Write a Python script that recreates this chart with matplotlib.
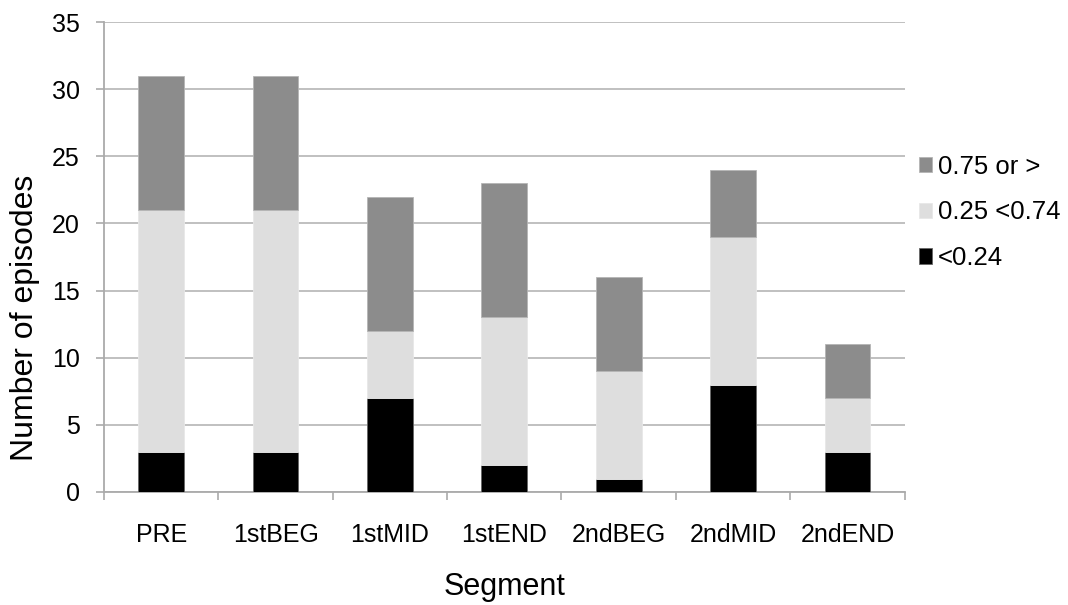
import matplotlib.pyplot as plt
import numpy as np

plt.rcParams['font.family'] = ['Liberation Sans', 'DejaVu Sans']

segments = ['PRE', '1stBEG', '1stMID', '1stEND', '2ndBEG', '2ndMID', '2ndEND']
low = [3, 3, 7, 2, 1, 8, 3]          # <0.24
mid = [18, 18, 5, 11, 8, 11, 4]      # 0.25 <0.74
high = [10, 10, 10, 10, 7, 5, 4]     # 0.75 or >

x = np.arange(len(segments))
w = 0.4

fig = plt.figure(figsize=(10.68, 6.05), dpi=100)
ax = fig.add_axes([0.0974, 0.1868, 0.7496, 0.7768])

b1 = ax.bar(x, low, w, color='black', edgecolor='#666666', linewidth=0.6, zorder=3, label='<0.24')
b2 = ax.bar(x, mid, w, bottom=low, color='#dedede', edgecolor='#e8e8e8', linewidth=0.6, zorder=3, label='0.25 <0.74')
bot2 = [a + b for a, b in zip(low, mid)]
b3 = ax.bar(x, high, w, bottom=bot2, color='#8c8c8c', edgecolor='#b5b5b5', linewidth=0.6, zorder=3, label='0.75 or >')

ax.set_xlim(-0.5, len(segments) - 0.5)
ax.set_ylim(0, 35)
ax.set_yticks(range(0, 36, 5))
ax.yaxis.grid(True, color='#bbbbbb', linewidth=1.3, zorder=0)
ax.set_xticks(x)
ax.set_xticklabels(segments, fontsize=18)
ax.set_xticks(np.arange(-0.5, len(segments), 1), minor=True)
ax.tick_params(axis='x', which='major', length=0, pad=22)
ax.tick_params(axis='x', which='minor', length=6, width=1.2, color='#aaaaaa')
ax.tick_params(axis='y', labelsize=18, length=5.5, width=1.2, color='#aaaaaa', pad=12)

for s in ['top', 'right']:
    ax.spines[s].set_visible(False)
for s in ['left', 'bottom']:
    ax.spines[s].set_color('#aaaaaa')
    ax.spines[s].set_linewidth(1.3)

ax.set_xlabel('Segment', fontsize=22, labelpad=18)
ax.set_ylabel('Number of episodes', fontsize=23)
ax.yaxis.set_label_coords(-0.08, 0.37)

ax.legend(handles=[b3, b2, b1], loc='center left', bbox_to_anchor=(1.005, 0.595),
          frameon=False, fontsize=18.5, handlelength=0.5, handleheight=0.55,
          handletextpad=0.25, labelspacing=0.85, borderaxespad=0)

fig.savefig('out.png', dpi=100)
